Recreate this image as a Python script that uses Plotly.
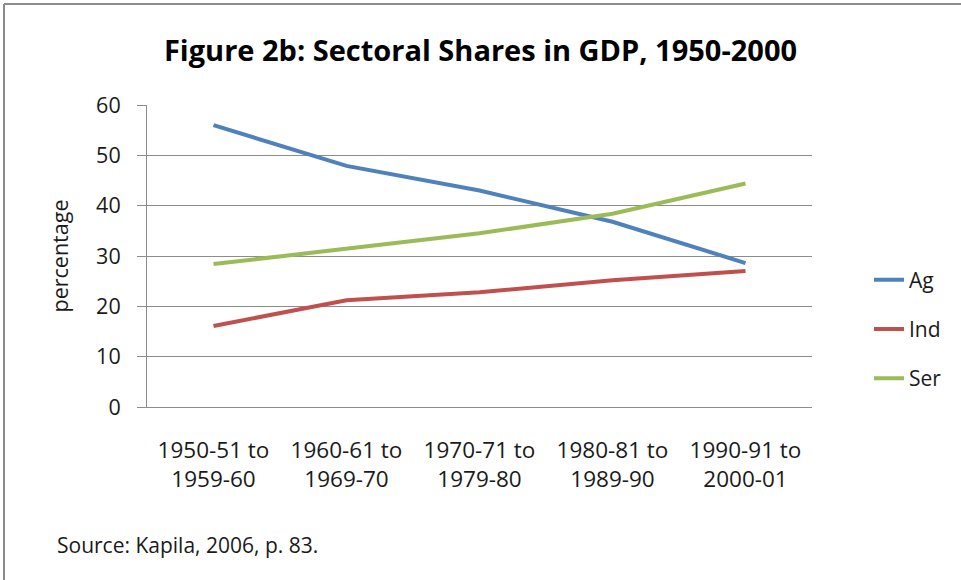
import plotly.graph_objects as go

# decades (x categories) and sector shares of GDP, percent
periods = ["1950-51 to<br>1959-60",
           "1960-61 to<br>1969-70",
           "1970-71 to<br>1979-80",
           "1980-81 to<br>1989-90",
           "1990-91 to<br>2000-01"]

ag = [56.0, 47.9, 43.0, 36.8, 28.6]
ind = [16.1, 21.2, 22.8, 25.2, 27.0]
ser = [28.4, 31.4, 34.5, 38.4, 44.4]

series = [("Ag", ag, "#4F81BD"),
          ("Ind", ind, "#C0504D"),
          ("Ser", ser, "#9BBB59")]

font_family = "'Open Sans', sans-serif"
grey = "#8C8C8C"

# plot area in pixels: x 147..812, y 105..407
def px(x):
    return (x - 147) / 665

def py(y):
    return (407 - y) / 302

fig = go.Figure()
for name, vals, color in series:
    fig.add_trace(go.Scatter(x=periods, y=vals, name=name, mode="lines",
                             legendgroup=name,
                             line=dict(color=color, width=4)))

fig.update_layout(
    width=961, height=580,
    margin=dict(l=147, r=149, t=105, b=173),
    paper_bgcolor="white", plot_bgcolor="white",
    font=dict(family=font_family, size=21, color="#1a1a1a"),
    title=dict(text="<b>Figure 2b: Sectoral Shares in GDP, 1950-2000</b>",
               x=0.5, xanchor="center", y=0.913, yanchor="middle",
               font=dict(size=29, color="#000000")),
    showlegend=True,
    legend=dict(x=px(869), y=py(329), xanchor="left", yanchor="middle",
                font=dict(size=21), tracegroupgap=19,
                bgcolor="rgba(0,0,0,0)"),
    annotations=[dict(text="Source: Kapila, 2006, p. 83.",
                      xref="paper", yref="paper",
                      x=px(55), y=py(545),
                      xanchor="left", yanchor="middle", showarrow=False,
                      font=dict(size=21, color="#1a1a1a"))],
    shapes=[
        # chart border (only the top and left edges show in the crop)
        dict(type="line", xref="paper", yref="paper",
             x0=px(4), x1=px(970), y0=py(4), y1=py(4),
             line=dict(color=grey, width=2)),
        dict(type="line", xref="paper", yref="paper",
             x0=px(4), x1=px(4), y0=py(4), y1=py(590),
             line=dict(color=grey, width=2)),
    ],
)

fig.update_xaxes(type="category", range=[-0.5, 4.5],
                 showline=True, linecolor=grey, linewidth=1,
                 showgrid=False, ticks="", tickfont=dict(size=22.5),
                 ticklabelstandoff=23)
fig.update_yaxes(range=[0, 60], dtick=10,
                 showline=True, linecolor=grey, linewidth=1,
                 showgrid=True, gridcolor=grey, gridwidth=1,
                 ticks="outside", ticklen=9, tickcolor=grey,
                 tickfont=dict(size=21.5), zeroline=False,
                 ticklabelstandoff=12,
                 title=dict(text="percentage", font=dict(size=21.5), standoff=21))

fig.write_html("out.html",
               config={"displayModeBar": False},
               post_script="document.body.style.margin='0';"
                           "document.body.style.overflow='hidden';")
